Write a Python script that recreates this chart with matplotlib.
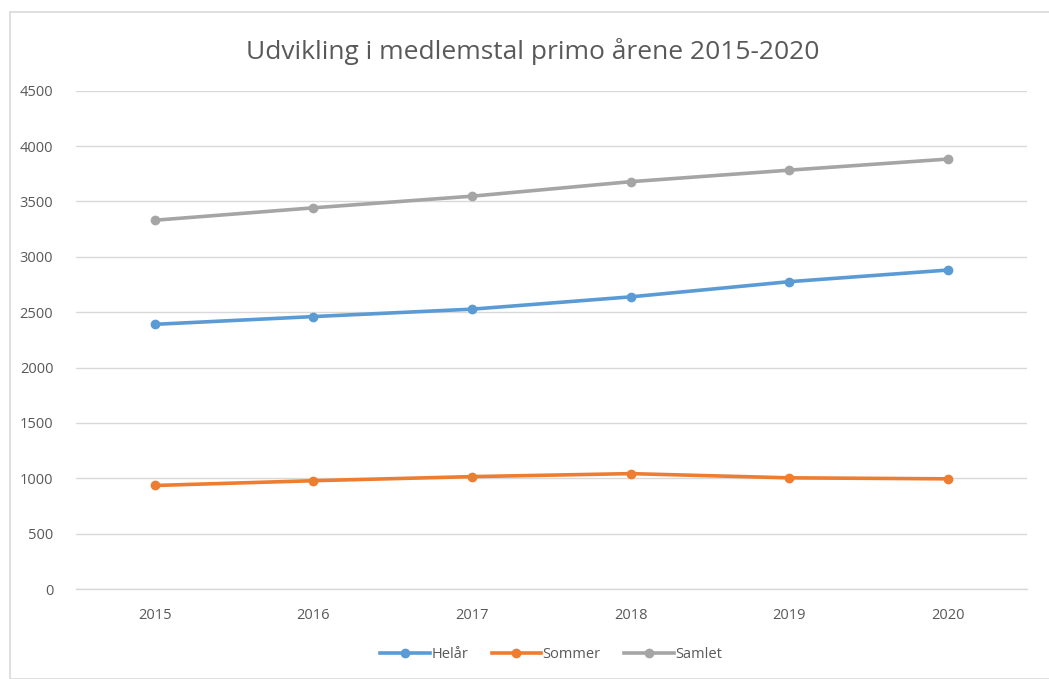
import matplotlib.pyplot as plt
from matplotlib.patches import Rectangle

years = ['2015', '2016', '2017', '2018', '2019', '2020']
helaar = [2390, 2460, 2527, 2638, 2775, 2880]
sommer = [935, 978, 1015, 1042, 1004, 995]
samlet = [3330, 3442, 3547, 3678, 3782, 3882]
yticks = [0, 500, 1000, 1500, 2000, 2500, 3000, 3500, 4000, 4500]

plt.rcParams['font.family'] = ['Open Sans', 'DejaVu Sans']
grey_text = '#595959'

fig = plt.figure(figsize=(10.49, 6.79), dpi=100)
fig.patches.append(Rectangle((10 / 1049, 0), 1.0, 1 - 12 / 679,
                             transform=fig.transFigure, fill=False,
                             edgecolor='#d9d9d9', linewidth=1.2))

ax = fig.add_axes([0.072, 0.1325, 0.907, 0.734])
x = range(len(years))
ax.plot(x, helaar, color='#5B9BD5', lw=2.6, marker='o', ms=6, label='Helår')
ax.plot(x, sommer, color='#ED7D31', lw=2.6, marker='o', ms=6, label='Sommer')
ax.plot(x, samlet, color='#A5A5A5', lw=2.6, marker='o', ms=6, label='Samlet')

ax.set_xlim(-0.5, len(years) - 0.5)
ax.set_ylim(0, 4500)
ax.set_yticks(yticks)
ax.set_xticks(list(x))
ax.set_xticklabels(years)
ax.grid(axis='y', color='#d9d9d9', lw=1)
ax.axhline(0, color='#d9d9d9', lw=1, clip_on=False, zorder=0)
ax.set_axisbelow(True)
for s in ax.spines.values():
    s.set_visible(False)
ax.tick_params(length=0, labelsize=10.5, colors=grey_text)
ax.tick_params(axis='x', pad=14)
ax.tick_params(axis='y', pad=16)

fig.text(0.508, 0.924, 'Udvikling i medlemstal primo årene 2015-2020',
         ha='center', va='center', fontsize=19, color=grey_text)

leg = ax.legend(loc='upper center', bbox_to_anchor=(0.5, -0.09), ncol=3,
                frameon=False, fontsize=10.5, handlelength=3.4,
                columnspacing=1.6, handletextpad=0.1)
for t in leg.get_texts():
    t.set_color(grey_text)

fig.savefig('out.png', dpi=100)
